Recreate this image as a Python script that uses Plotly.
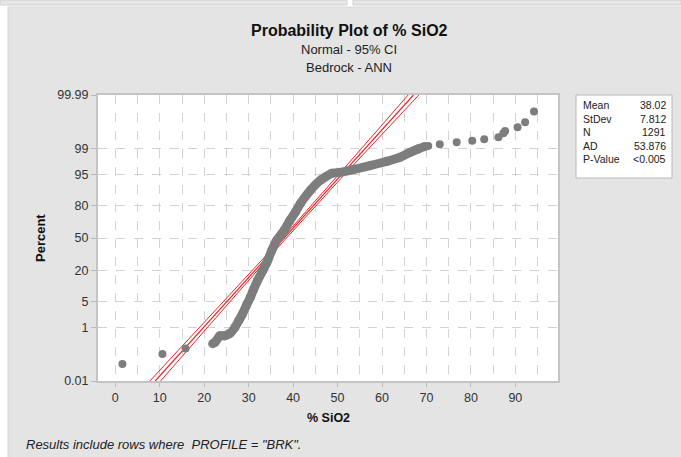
from statistics import NormalDist
import numpy as np
import plotly.graph_objects as go

# --- fitted normal parameters (shown in the stats box) ---
MEAN = 38.02
STDEV = 7.812
N_OBS = 1291
AD_STAT = "53.876"
P_VALUE = "<0.005"

# --- ordered observations: % SiO2 and plotting-position percent ---
# continuous run of closely spaced observations
dense_sio2 = [21.9, 22.4, 23.5, 24.6, 25.7, 26.9, 27.8, 28.6, 29.5, 30.4,
              31.0, 32.0, 33.2, 34.3, 35.2, 36.3, 38.0, 39.3, 40.5, 41.7,
              43.9, 46.2, 48.7, 50.5, 53.5, 57.3, 61.1, 64.0, 66.3, 68.1, 69.7]
dense_pct = [0.30, 0.33, 0.55, 0.55, 0.64, 1.0, 1.6, 2.4, 4.0, 6.2,
             8.6, 13.5, 20.0, 28.0, 37.4, 47.6, 58.0, 67.8, 74.9, 81.8,
             89.3, 93.4, 95.4, 95.6, 96.25, 97.0, 97.7, 98.2, 98.7, 98.97, 99.14]

# isolated observations in both tails
tail_sio2 = [1.6, 10.6, 15.8, 70.4, 73.0, 76.8, 80.3, 83.0, 86.2, 87.3,
             87.7, 90.5, 92.2, 94.2]
tail_pct = [0.052, 0.127, 0.204, 99.17, 99.26, 99.36, 99.43, 99.49, 99.56,
            99.68, 99.73, 99.80, 99.87, 99.95]

# probability-scale ticks
pct_ticks = [0.01, 1, 5, 20, 50, 80, 95, 99, 99.99]
pct_tick_text = ["0.01", "1", "5", "20", "50", "80", "95", "99", "99.99"]
sio2_ticks = [0, 10, 20, 30, 40, 50, 60, 70, 80, 90]

nd = NormalDist()


def to_z(p):
    return [nd.inv_cdf(v / 100.0) for v in p]


Z_MAX = nd.inv_cdf(0.9999)

# --- figure geometry (pixels) ---
W, H = 681, 457
L, R, T, B = 98, 558, 95, 381


def px(x):
    return (x - L) / (R - L)


def py(y):
    return (B - y) / (B - T)


fig = go.Figure()

# fitted line and 95% confidence bounds on the percentiles
zz = np.linspace(-Z_MAX, Z_MAX, 200)
fit_x = MEAN + zz * STDEV
se = STDEV * np.sqrt(1.0 / N_OBS + zz ** 2 / (2.0 * N_OBS))
for xs, w in ((fit_x - 1.96 * se, 1), (fit_x, 1.2), (fit_x + 1.96 * se, 1)):
    fig.add_trace(go.Scatter(x=xs, y=zz, mode="lines",
                             line=dict(color="#e8262a", width=w),
                             hoverinfo="skip", showlegend=False))

GREY = "#7d7d7d"
fig.add_trace(go.Scatter(x=dense_sio2, y=to_z(dense_pct), mode="lines+markers",
                         line=dict(color=GREY, width=9, shape="spline", smoothing=0.4),
                         marker=dict(color=GREY, size=9),
                         showlegend=False))
fig.add_trace(go.Scatter(x=tail_sio2, y=to_z(tail_pct), mode="markers",
                         marker=dict(color=GREY, size=8),
                         showlegend=False))

shapes = [
    # window strip along the top
    dict(type="rect", xref="paper", yref="paper", layer="below",
         x0=px(0), x1=px(347), y0=py(0), y1=py(5),
         fillcolor="#e6e6e6", line=dict(color="#d2d2d2", width=1)),
    dict(type="rect", xref="paper", yref="paper", layer="below",
         x0=px(353), x1=px(W), y0=py(0), y1=py(5),
         fillcolor="#e6e6e6", line=dict(color="#d2d2d2", width=1)),
    # grey graph panel
    dict(type="rect", xref="paper", yref="paper", layer="below",
         x0=px(8), x1=px(W + 2), y0=py(7), y1=py(H + 2),
         fillcolor="#e4e4e4", line=dict(color="#d6d6d6", width=1)),
    # white data region
    dict(type="rect", xref="paper", yref="paper", layer="below",
         x0=0, x1=1, y0=0, y1=1, fillcolor="white", line=dict(width=0)),
    # stats box
    dict(type="rect", xref="paper", yref="paper",
         x0=px(576), x1=px(672), y0=py(95), y1=py(178),
         fillcolor="white", line=dict(color="#b8b8b8", width=1)),
]

FONT = "Liberation Sans, Arial, sans-serif"
ann = [
    dict(text="<b>Probability Plot of % SiO2</b>", x=px(349), y=py(30),
         font=dict(size=16, color="#111111")),
    dict(text="Normal - 95% CI", x=px(349), y=py(49),
         font=dict(size=13, color="#222222")),
    dict(text="Bedrock - ANN", x=px(349), y=py(67),
         font=dict(size=13, color="#222222")),
    dict(text="<b>% SiO2</b>", x=px(328), y=py(418),
         font=dict(size=12.5, color="#111111")),
    dict(text="<b>Percent</b>", x=px(40), y=py(238), textangle=-90,
         font=dict(size=13, color="#111111")),
    dict(text='<i>Results include rows where  PROFILE = "BRK".</i>',
         x=px(24), y=py(444), xanchor="left",
         font=dict(size=13, color="#222222")),
]

stat_labels = ["Mean", "StDev", "N", "AD", "P-Value"]
stat_values = [f"{MEAN:.2f}", f"{STDEV:.3f}", str(N_OBS), AD_STAT, P_VALUE]
for i, (lab, val) in enumerate(zip(stat_labels, stat_values)):
    yy = py(105 + i * 13.5)
    ann.append(dict(text=lab, x=px(581), y=yy, xanchor="left",
                    font=dict(size=10.5, color="#222222")))
    ann.append(dict(text=val, x=px(668), y=yy, xanchor="right",
                    font=dict(size=10.5, color="#222222")))

for a in ann:
    a.setdefault("xanchor", "center")
    a.update(xref="paper", yref="paper", yanchor="middle", showarrow=False)

fig.update_layout(
    width=W, height=H,
    margin=dict(l=L, r=W - R, t=T, b=H - B, pad=0),
    paper_bgcolor="white", plot_bgcolor="rgba(0,0,0,0)",
    font=dict(family=FONT, color="#333333"),
    shapes=shapes, annotations=ann, showlegend=False,
)

GRID = "#d2d2d2"
fig.update_xaxes(
    range=[-3.9, 99.6], tickvals=sio2_ticks, ticks="outside", ticklen=4,
    tickcolor="#b8b8b8", tickfont=dict(size=12.5, color="#333333"),
    showline=True, mirror=True, linecolor="#c4c4c4", linewidth=2,
    showgrid=True, gridcolor=GRID, griddash="dash", gridwidth=1,
    minor=dict(dtick=5, tick0=0, showgrid=True, gridcolor=GRID,
               griddash="dash", ticks=""),
    zeroline=False,
)
fig.update_yaxes(
    range=[-Z_MAX, Z_MAX], tickvals=to_z(pct_ticks), ticktext=pct_tick_text,
    ticks="outside", ticklen=5, tickcolor="#b8b8b8",
    tickfont=dict(size=12.5, color="#333333"),
    showline=True, mirror=True, linecolor="#c4c4c4", linewidth=2,
    showgrid=True, gridcolor=GRID, griddash="dash", gridwidth=1,
    zeroline=False,
)

fig.write_html("out.html")
